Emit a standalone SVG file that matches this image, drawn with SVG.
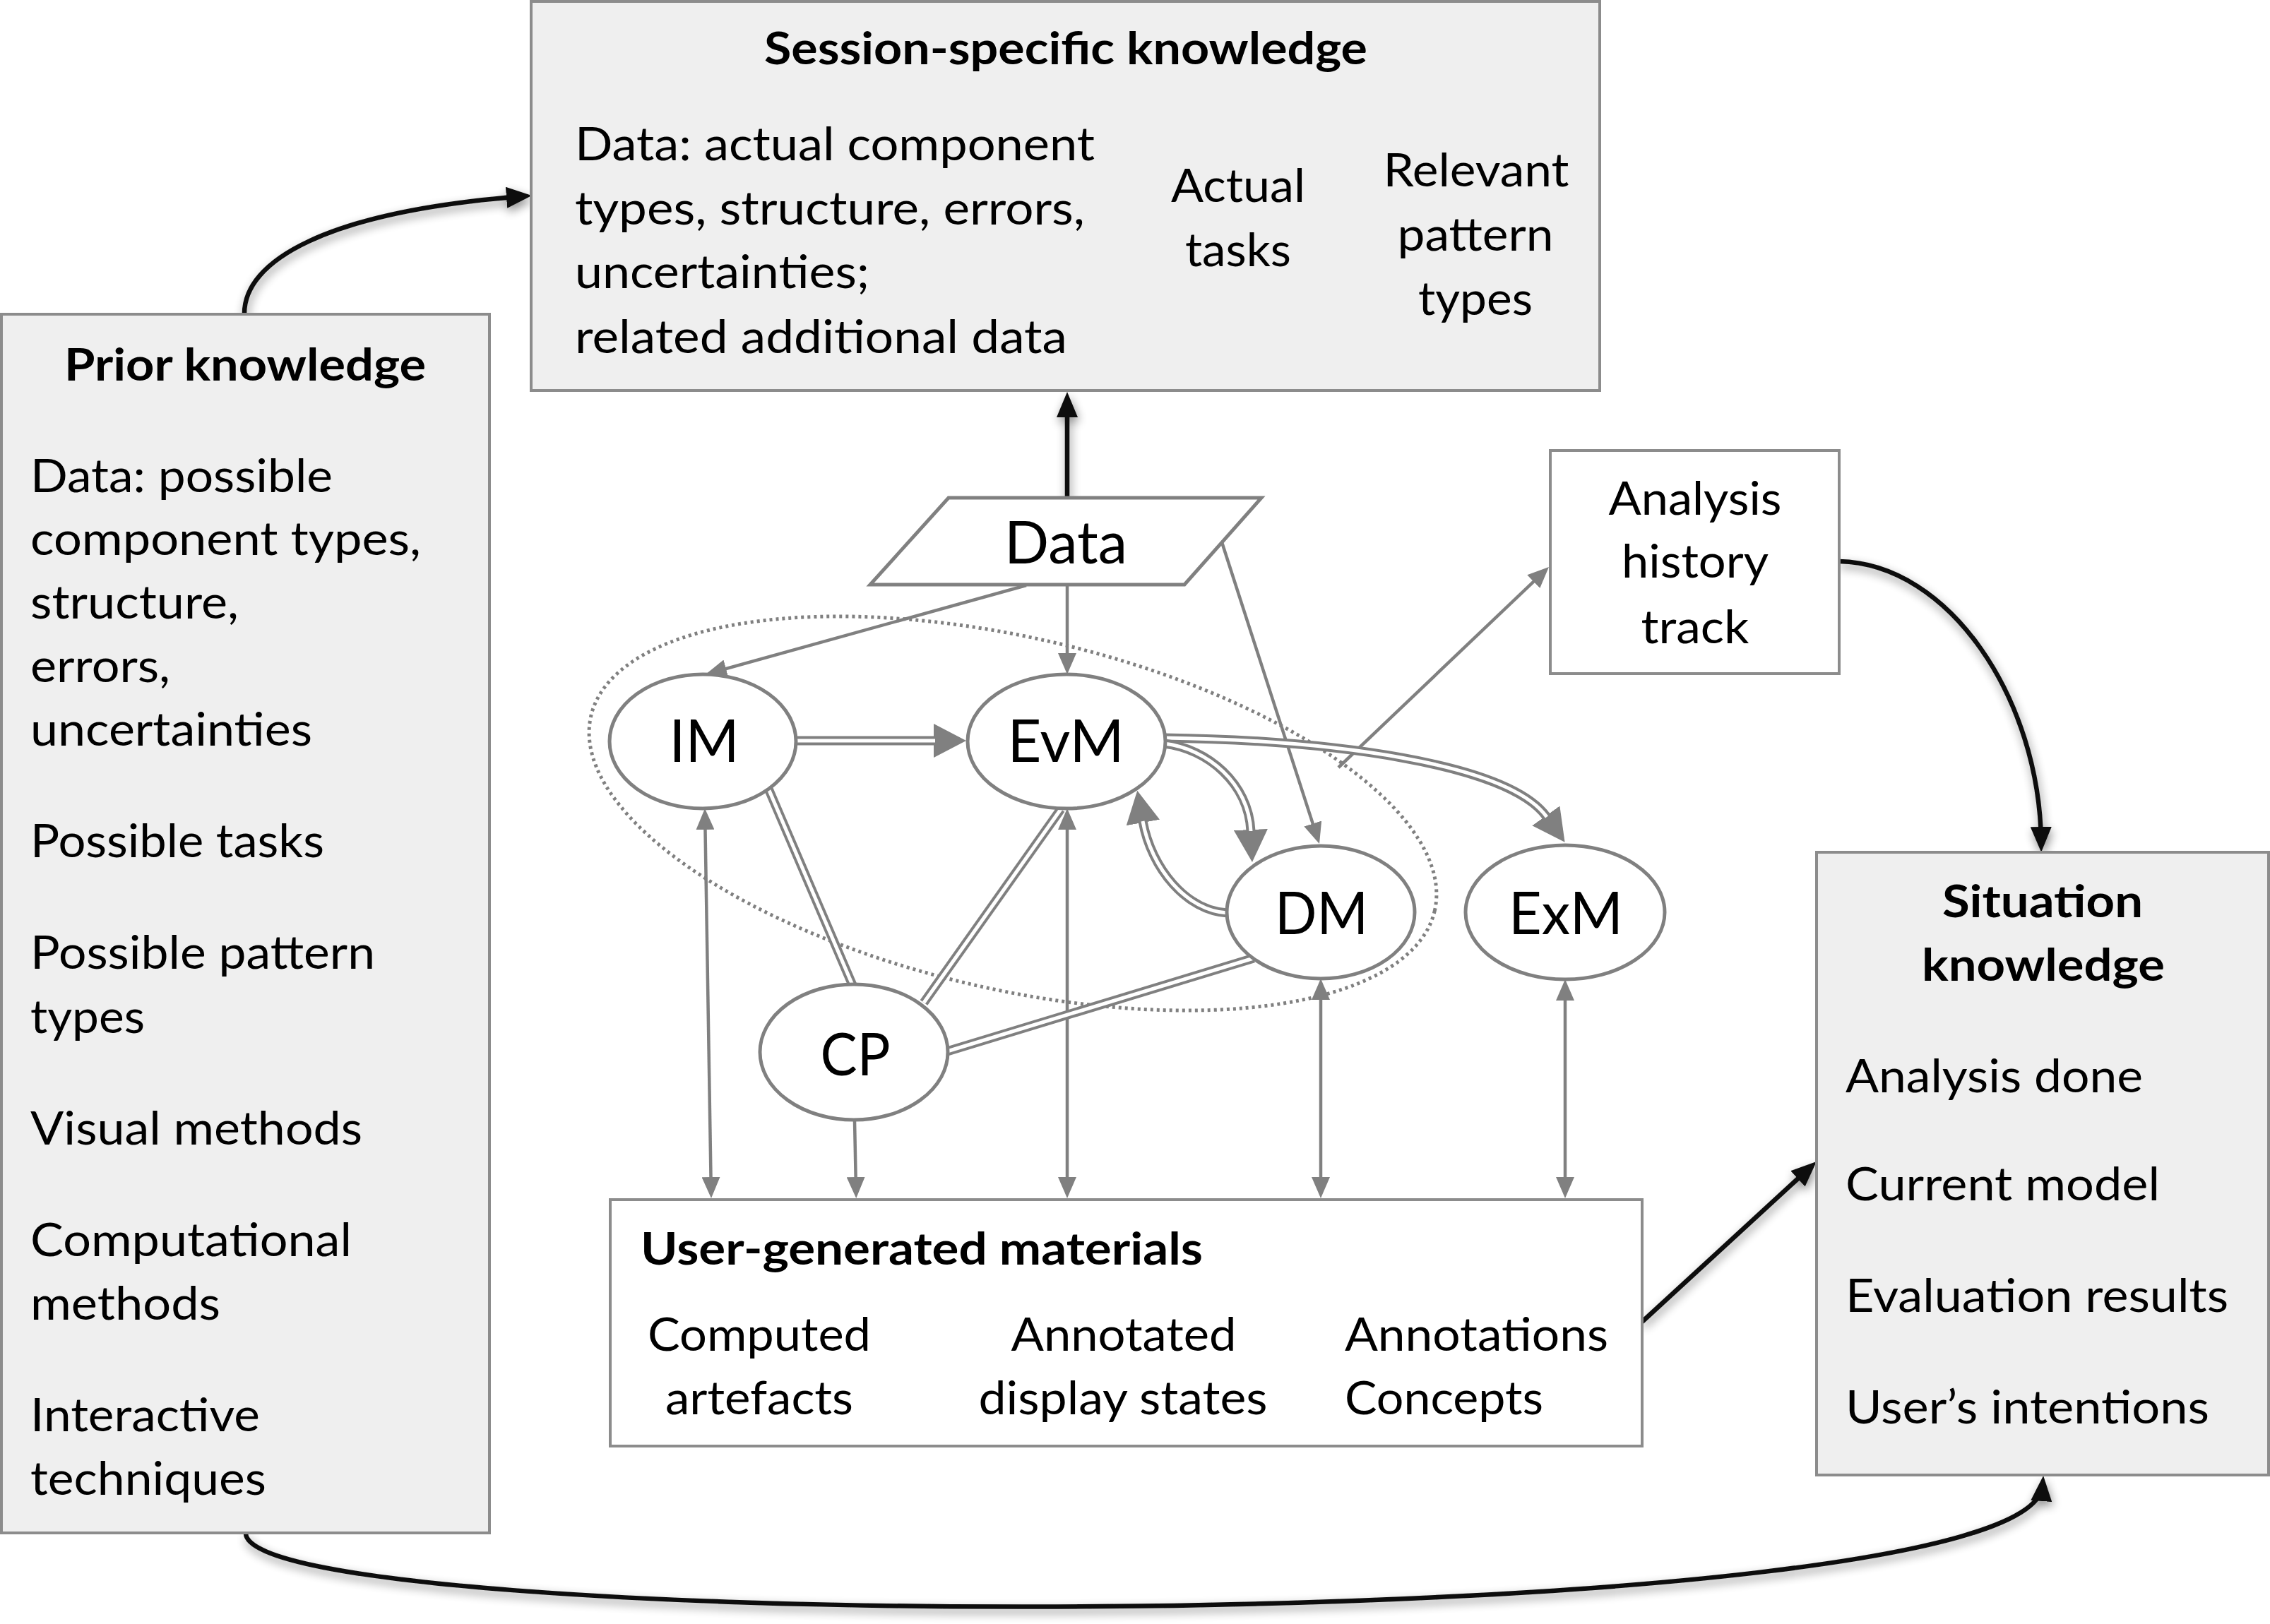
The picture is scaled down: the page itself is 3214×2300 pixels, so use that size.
<svg xmlns="http://www.w3.org/2000/svg" width="3214" height="2300" viewBox="0 0 3214 2300">
<style>
.box{fill:#efefef;stroke:#8c8c8c;stroke-width:4}
.wbox{fill:#fff;stroke:#8c8c8c;stroke-width:4}
.node{fill:#fff;stroke:#808080;stroke-width:5}
.t{font-family:Lato,"Liberation Sans",sans-serif;font-size:66px;fill:#000}
.b{font-weight:bold;font-size:64px}
.n{font-size:84px}
.m{text-anchor:middle}
.g{stroke:#808080;stroke-width:4.5;fill:none}
.dbl{stroke:#808080;stroke-width:13;fill:none}
.dbw{stroke:#fff;stroke-width:5;fill:none}
.blk{stroke:#111;stroke-width:6.5;fill:none}
</style>
<defs>
<filter id="sh" filterUnits="userSpaceOnUse" x="0" y="0" width="3214" height="2300">
<feGaussianBlur in="SourceAlpha" stdDeviation="7"/>
<feOffset dx="2" dy="6"/>
<feComponentTransfer><feFuncA type="linear" slope="0.45"/></feComponentTransfer>
<feMerge><feMergeNode/><feMergeNode in="SourceGraphic"/></feMerge>
</filter>
<marker id="ab" markerUnits="userSpaceOnUse" viewBox="0 0 36 30" refX="22" refY="15" markerWidth="36" markerHeight="30" orient="auto"><path d="M0,0 L36,15 L0,30 z" fill="#111"/></marker>
<marker id="ag" markerUnits="userSpaceOnUse" viewBox="0 0 30 26" refX="18" refY="13" markerWidth="30" markerHeight="26" orient="auto-start-reverse"><path d="M0,0 L30,13 L0,26 z" fill="#808080"/></marker>
<marker id="ad" markerUnits="userSpaceOnUse" viewBox="0 0 46 48" refX="2" refY="24" markerWidth="46" markerHeight="48" orient="auto"><path d="M0,0 L46,24 L0,48 z" fill="#808080"/></marker>
</defs>
<rect width="3214" height="2300" fill="#fff"/>

<g id="group-outline">
<ellipse cx="1434" cy="1152" rx="613" ry="249" transform="rotate(13 1434 1152)" fill="none" stroke="#808080" stroke-width="5" stroke-dasharray="4 5"/>
</g>

<g id="connectors">
<path class="g" d="M1453,829 L1010.6,951.8" marker-end="url(#ag)"/>
<path class="g" d="M1511,829 L1511,943" marker-end="url(#ag)"/>
<path class="g" d="M1730,768 L1864.3,1183.6" marker-end="url(#ag)"/>
<path class="g" d="M1895,1087 L2184.3,811.3" marker-end="url(#ag)"/>
<path class="g" d="M998.2,1157 L1006.8,1685" marker-start="url(#ag)" marker-end="url(#ag)"/>
<path class="g" d="M1210,1588 L1212,1685" marker-end="url(#ag)"/>
<path class="g" d="M1511,1157 L1511,1685" marker-start="url(#ag)" marker-end="url(#ag)"/>
<path class="g" d="M1870,1398 L1870,1685" marker-start="url(#ag)" marker-end="url(#ag)"/>
<path class="g" d="M2216,1399 L2216,1685" marker-start="url(#ag)" marker-end="url(#ag)"/>

<path class="dbl" d="M1088,1117 L1207,1395"/><path class="dbw" d="M1088,1117 L1207,1395"/>
<path class="dbl" d="M1502,1146 L1308,1420"/><path class="dbw" d="M1502,1146 L1308,1420"/>
<path class="dbl" d="M1775,1357 L1341,1489"/><path class="dbw" d="M1775,1357 L1341,1489"/>
<path class="dbl" d="M1127,1049 L1324,1049" marker-end="url(#ad)"/><path class="dbw" d="M1127,1049 L1324,1049"/>
<path class="dbl" d="M1648,1045 C1880,1048 2135,1080 2190,1157" marker-end="url(#ad)"/><path class="dbw" d="M1648,1045 C1880,1048 2135,1080 2190,1157"/>
<path class="dbl" d="M1648,1053 C1710,1060 1768,1110 1771,1177" marker-end="url(#ad)"/><path class="dbw" d="M1648,1053 C1710,1060 1768,1110 1771,1177"/>
<path class="dbl" d="M1738,1293 C1680,1290 1630,1230 1618,1163" marker-end="url(#ad)"/><path class="dbw" d="M1738,1293 C1680,1290 1630,1230 1618,1163"/>

<g filter="url(#sh)">
<path class="blk" d="M1511,705 L1511,569" marker-end="url(#ab)"/>
<path class="blk" d="M346,445 C345,370 460,300 739,278" marker-end="url(#ab)"/>
<path class="blk" d="M2604,795 C2760,798 2888,990 2890,1193" marker-end="url(#ab)"/>
<path class="blk" d="M2325,1872 L2561.7,1654.5" marker-end="url(#ab)"/>
<path class="blk" d="M348,2172 C355,2318 2875,2322 2892,2104" marker-end="url(#ab)"/>
</g>
</g>

<g id="session-knowledge">
<rect class="box" x="752" y="2" width="1513" height="551"/>
<text class="t b m" x="1509" y="91" textLength="854" lengthAdjust="spacingAndGlyphs">Session-specific knowledge</text>
<text class="t" x="814" y="227" textLength="736" lengthAdjust="spacingAndGlyphs">Data: actual component</text>
<text class="t" x="814" y="318" textLength="722" lengthAdjust="spacingAndGlyphs">types, structure, errors,</text>
<text class="t" x="814" y="408" textLength="417" lengthAdjust="spacingAndGlyphs">uncertainties;</text>
<text class="t" x="814" y="500" textLength="697" lengthAdjust="spacingAndGlyphs">related additional data</text>
<text class="t m" x="1753" y="286" textLength="190" lengthAdjust="spacingAndGlyphs">Actual</text>
<text class="t m" x="1753" y="377" textLength="150" lengthAdjust="spacingAndGlyphs">tasks</text>
<text class="t m" x="2090" y="264" textLength="263" lengthAdjust="spacingAndGlyphs">Relevant</text>
<text class="t m" x="2089" y="355" textLength="221" lengthAdjust="spacingAndGlyphs">pattern</text>
<text class="t m" x="2089" y="446" textLength="162" lengthAdjust="spacingAndGlyphs">types</text>
</g>

<g id="prior-knowledge">
<rect class="box" x="2" y="445" width="691" height="1726"/>
<text class="t b m" x="347" y="539" textLength="512" lengthAdjust="spacingAndGlyphs">Prior knowledge</text>
<text class="t" x="43" y="697" textLength="428" lengthAdjust="spacingAndGlyphs">Data: possible</text>
<text class="t" x="43" y="786" textLength="553" lengthAdjust="spacingAndGlyphs">component types,</text>
<text class="t" x="43" y="876" textLength="295" lengthAdjust="spacingAndGlyphs">structure,</text>
<text class="t" x="43" y="966" textLength="198" lengthAdjust="spacingAndGlyphs">errors,</text>
<text class="t" x="43" y="1056" textLength="399" lengthAdjust="spacingAndGlyphs">uncertainties</text>
<text class="t" x="43" y="1214" textLength="416" lengthAdjust="spacingAndGlyphs">Possible tasks</text>
<text class="t" x="43" y="1372" textLength="488" lengthAdjust="spacingAndGlyphs">Possible pattern</text>
<text class="t" x="43" y="1463" textLength="162" lengthAdjust="spacingAndGlyphs">types</text>
<text class="t" x="43" y="1621" textLength="470" lengthAdjust="spacingAndGlyphs">Visual methods</text>
<text class="t" x="43" y="1779" textLength="455" lengthAdjust="spacingAndGlyphs">Computational</text>
<text class="t" x="43" y="1869" textLength="269" lengthAdjust="spacingAndGlyphs">methods</text>
<text class="t" x="43" y="2027" textLength="325" lengthAdjust="spacingAndGlyphs">Interactive</text>
<text class="t" x="43" y="2117" textLength="334" lengthAdjust="spacingAndGlyphs">techniques</text>
</g>

<g id="situation-knowledge">
<rect class="box" x="2572" y="1207" width="640" height="882"/>
<text class="t b m" x="2892" y="1299" textLength="284" lengthAdjust="spacingAndGlyphs">Situation</text>
<text class="t b m" x="2893" y="1389" textLength="344" lengthAdjust="spacingAndGlyphs">knowledge</text>
<text class="t" x="2613" y="1547" textLength="421" lengthAdjust="spacingAndGlyphs">Analysis done</text>
<text class="t" x="2613" y="1700" textLength="445" lengthAdjust="spacingAndGlyphs">Current model</text>
<text class="t" x="2613" y="1858" textLength="542" lengthAdjust="spacingAndGlyphs">Evaluation results</text>
<text class="t" x="2613" y="2016" textLength="515" lengthAdjust="spacingAndGlyphs">User’s intentions</text>
</g>

<g id="analysis-history">
<rect class="wbox" x="2195" y="638" width="409" height="316"/>
<text class="t m" x="2400" y="729" textLength="245" lengthAdjust="spacingAndGlyphs">Analysis</text>
<text class="t m" x="2400" y="818" textLength="208" lengthAdjust="spacingAndGlyphs">history</text>
<text class="t m" x="2400" y="911" textLength="153" lengthAdjust="spacingAndGlyphs">track</text>
</g>

<g id="user-generated-materials">
<rect class="wbox" x="864" y="1699" width="1461" height="349"/>
<text class="t b" x="907" y="1791" textLength="796" lengthAdjust="spacingAndGlyphs">User-generated materials</text>
<text class="t m" x="1075" y="1913" textLength="316" lengthAdjust="spacingAndGlyphs">Computed</text>
<text class="t m" x="1075" y="2003" textLength="266" lengthAdjust="spacingAndGlyphs">artefacts</text>
<text class="t m" x="1591" y="1913" textLength="319" lengthAdjust="spacingAndGlyphs">Annotated</text>
<text class="t m" x="1590" y="2003" textLength="409" lengthAdjust="spacingAndGlyphs">display states</text>
<text class="t" x="1904" y="1913" textLength="373" lengthAdjust="spacingAndGlyphs">Annotations</text>
<text class="t" x="1904" y="2003" textLength="281" lengthAdjust="spacingAndGlyphs">Concepts</text>
</g>

<g id="data">
<polygon class="node" points="1343,705 1786,705 1677,828 1232,828" stroke-width="4"/>
<text class="t n m" x="1509" y="798" textLength="174" lengthAdjust="spacingAndGlyphs">Data</text>
</g>
<g id="IM">
<ellipse class="node" cx="995" cy="1050" rx="132" ry="95"/>
<text class="t n m" x="997" y="1079" textLength="99" lengthAdjust="spacingAndGlyphs">IM</text>
</g>
<g id="EvM">
<ellipse class="node" cx="1510" cy="1050" rx="140" ry="95"/>
<text class="t n m" x="1509" y="1079" textLength="165" lengthAdjust="spacingAndGlyphs">EvM</text>
</g>
<g id="DM">
<ellipse class="node" cx="1870" cy="1292" rx="133" ry="94"/>
<text class="t n m" x="1871" y="1323" textLength="132" lengthAdjust="spacingAndGlyphs">DM</text>
</g>
<g id="ExM">
<ellipse class="node" cx="2216" cy="1292" rx="141" ry="95"/>
<text class="t n m" x="2217" y="1323" textLength="162" lengthAdjust="spacingAndGlyphs">ExM</text>
</g>
<g id="CP">
<ellipse class="node" cx="1209" cy="1490" rx="133" ry="96"/>
<text class="t n m" x="1211" y="1523" textLength="99" lengthAdjust="spacingAndGlyphs">CP</text>
</g>
</svg>
